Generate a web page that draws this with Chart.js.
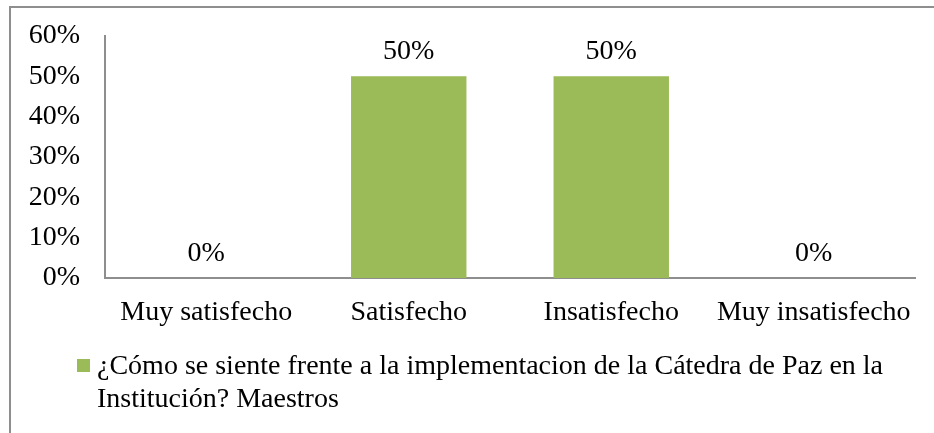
<!DOCTYPE html>
<html lang="es">
<head>
    <meta charset="UTF-8">
    <title>Cátedra de Paz - Maestros</title>
    <script src="https://cdn.jsdelivr.net/npm/chart.js"></script>
    <style>
        body {
            margin: 0;
            background: #fff;
            overflow: hidden;
        }

        .wrap {
            position: relative;
            width: 934px;
            height: 433px;
            overflow: hidden;
        }

        /* frame of the original chart object, only top and left edges are in view */
        .frame {
            position: absolute;
            left: 9px;
            top: 6px;
            right: 0;
            bottom: 0;
            border-top: 2px solid #8e8e8e;
            border-left: 2px solid #8e8e8e;
        }

        canvas {
            position: absolute;
            left: 0;
            top: 0;
        }
    </style>
</head>
<body>
    <div class="wrap">
        <div class="frame"></div>
        <canvas id="chart" width="934" height="433"></canvas>
    </div>

    <script>
        const categories = ['Muy satisfecho', 'Satisfecho', 'Insatisfecho', 'Muy insatisfecho'];
        const values = [0, 0.5, 0.5, 0];
        const seriesName = ['¿Cómo se siente frente a la implementacion de la Cátedra de Paz en la', 'Institución? Maestros'];
        const yTicks = [0, 0.1, 0.2, 0.3, 0.4, 0.5, 0.6];

        const FONT = "'Liberation Serif', 'Times New Roman', serif";
        const FONT_SIZE = 28;
        const GREEN = '#9bbb59';
        const AXIS = '#8e8e8e';

        const pct = v => Math.round(v * 100) + '%';

        // value labels above each bar
        const valueLabels = {
            id: 'valueLabels',
            afterDatasetsDraw(chart) {
                const ctx = chart.ctx;
                const meta = chart.getDatasetMeta(0);
                ctx.save();
                ctx.font = FONT_SIZE + 'px ' + FONT;
                ctx.fillStyle = '#000';
                ctx.textAlign = 'center';
                ctx.textBaseline = 'alphabetic';
                meta.data.forEach((bar, i) => {
                    ctx.fillText(pct(values[i]), bar.x, bar.y - 17);
                });
                ctx.restore();
            }
        };

        // two-line legend under the axis, like the original
        const wrappedLegend = {
            id: 'wrappedLegend',
            afterDraw(chart) {
                const ctx = chart.ctx;
                const base = chart.chartArea.bottom;
                const x0 = chart.chartArea.left - 28;
                ctx.save();
                ctx.fillStyle = GREEN;
                ctx.fillRect(x0, base + 81, 13, 13);
                ctx.font = FONT_SIZE + 'px ' + FONT;
                ctx.fillStyle = '#000';
                ctx.textAlign = 'left';
                ctx.textBaseline = 'middle';
                seriesName.forEach((line, i) => {
                    ctx.fillText(line, x0 + 20, base + 89 + i * 33);
                });
                ctx.restore();
            }
        };

        new Chart(document.getElementById('chart'), {
            type: 'bar',
            data: {
                labels: categories,
                datasets: [{
                    label: seriesName.join(' '),
                    data: values,
                    backgroundColor: GREEN,
                    borderWidth: 0,
                    categoryPercentage: 1,
                    barPercentage: 0.57
                }]
            },
            options: {
                responsive: false,
                animation: false,
                layout: {
                    padding: { top: 36, right: 19, left: 0, bottom: 0 }
                },
                plugins: {
                    legend: { display: false },
                    tooltip: { enabled: false }
                },
                scales: {
                    x: {
                        grid: { display: false, drawTicks: false },
                        border: { display: true, color: AXIS, width: 2 },
                        ticks: {
                            color: '#000',
                            font: { family: FONT, size: FONT_SIZE },
                            padding: 18,
                            maxRotation: 0,
                            autoSkip: false
                        },
                        afterFit(scale) {
                            scale.height = 155;
                            scale.paddingLeft = 0;
                            scale.paddingRight = 0;
                        }
                    },
                    y: {
                        min: 0,
                        max: 0.6,
                        afterBuildTicks(scale) {
                            scale.ticks = yTicks.map(v => ({ value: v }));
                        },
                        grid: { display: false, drawTicks: false },
                        border: { display: true, color: AXIS, width: 2 },
                        ticks: {
                            color: '#000',
                            font: { family: FONT, size: FONT_SIZE },
                            padding: 25,
                            callback: v => pct(v)
                        },
                        afterFit(scale) {
                            scale.width = 105;
                            scale.paddingTop = 0;
                            scale.paddingBottom = 0;
                        }
                    }
                }
            },
            plugins: [valueLabels, wrappedLegend]
        });
    </script>
</body>
</html>
